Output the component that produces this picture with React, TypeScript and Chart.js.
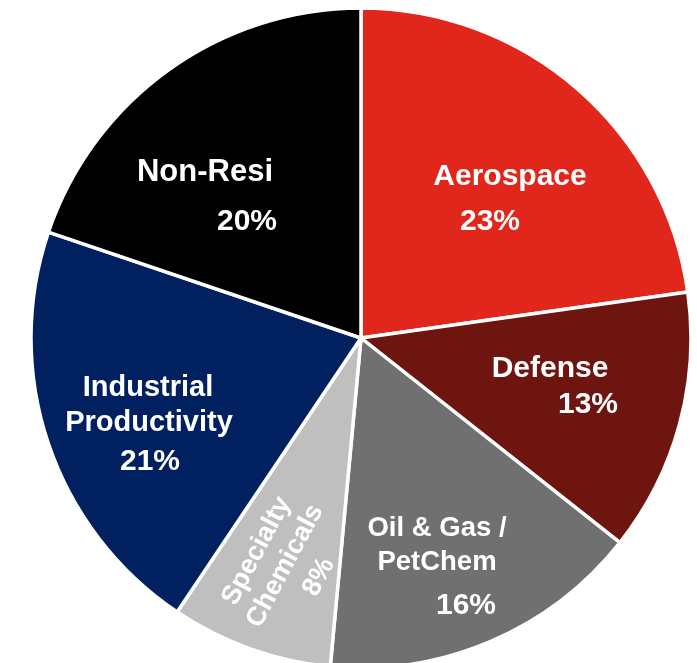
import React, { useEffect, useRef } from "react";
import { Chart, registerables } from "chart.js";

Chart.register(...registerables);

// ---- data ----
const categories = [
  "Aerospace",
  "Defense",
  "Oil & Gas / PetChem",
  "Specialty Chemicals",
  "Industrial Productivity",
  "Non-Resi",
];
const shares = [23, 13, 16, 8, 21, 20];
const nameLines = [
  ["Aerospace"],
  ["Defense"],
  ["Oil & Gas /", "PetChem"],
  ["Specialty", "Chemicals"],
  ["Industrial", "Productivity"],
  ["Non-Resi"],
];
const sliceColors = ["#E1261C", "#6F1510", "#707070", "#BFBFBF", "#002060", "#000000"];

// ---- label layout (offsets from pie centre, px at radius 330) ----
type LabelLayout = { anchor: [number, number]; rot: number; lines: [number, number][]; sizes: number[] };
const labelLayout: LabelLayout[] = [
  { anchor: [0, 0], rot: 0, lines: [[149, -161], [129, -116]], sizes: [30, 30] },
  { anchor: [0, 0], rot: 0, lines: [[189, 31], [227, 67]], sizes: [30, 30] },
  { anchor: [0, 0], rot: 0, lines: [[437 - 361, 190], [437 - 361, 224], [105, 268]], sizes: [27.5, 27.5, 30] },
  { anchor: [-76, 228], rot: -62, lines: [[0, -32], [0, 0], [6, 35]], sizes: [27, 27, 27] },
  { anchor: [0, 0], rot: 0, lines: [[-213, 50], [-212, 85], [-211, 124]], sizes: [29, 29, 30] },
  { anchor: [0, 0], rot: 0, lines: [[-156, -166], [-114, -116]], sizes: [31, 30] },
];

const labelPlugin = {
  id: "sliceLabels",
  afterDatasetsDraw(chart: any) {
    const meta = chart.getDatasetMeta(0);
    const arc = meta.data[0];
    if (!arc) return;
    const cx = arc.x;
    const cy = arc.y;
    const k = arc.outerRadius / 330;
    const ctx = chart.ctx;
    ctx.save();
    ctx.fillStyle = "#FFFFFF";
    ctx.textAlign = "center";
    ctx.textBaseline = "middle";
    labelLayout.forEach((lay, i) => {
      const lines = [...nameLines[i], `${shares[i]}%`];
      ctx.save();
      ctx.translate(cx + lay.anchor[0] * k, cy + lay.anchor[1] * k);
      ctx.rotate((lay.rot * Math.PI) / 180);
      lines.forEach((t, j) => {
        const [dx, dy] = lay.lines[j];
        ctx.font = `bold ${lay.sizes[j] * k}px "Liberation Sans", Arial, sans-serif`;
        ctx.fillText(t, dx * k, dy * k);
      });
      ctx.restore();
    });
    ctx.restore();
  },
};

export default function App() {
  const ref = useRef<HTMLCanvasElement | null>(null);

  useEffect(() => {
    document.body.style.margin = "0";
    document.body.style.overflow = "hidden";
    const canvas = ref.current;
    if (!canvas) return;
    const chart = new Chart(canvas, {
      type: "pie",
      data: {
        labels: categories,
        datasets: [
          {
            data: shares,
            backgroundColor: sliceColors,
            borderColor: "#FFFFFF",
            borderWidth: 3.5,
            clip: false,
          } as any,
        ],
      },
      options: {
        animation: false,
        responsive: false,
        radius: 330,
        rotation: 0,
        layout: { padding: { left: 25, right: 0, top: 0, bottom: 0 } },
        plugins: {
          legend: { display: false },
          tooltip: { enabled: false },
        },
      } as any,
      plugins: [labelPlugin],
    });
    return () => chart.destroy();
  }, []);

  return (
    <div style={{ width: 697, height: 676, background: "#FFFFFF" }}>
      <canvas ref={ref} width={697} height={676} style={{ display: "block" }} />
    </div>
  );
}
